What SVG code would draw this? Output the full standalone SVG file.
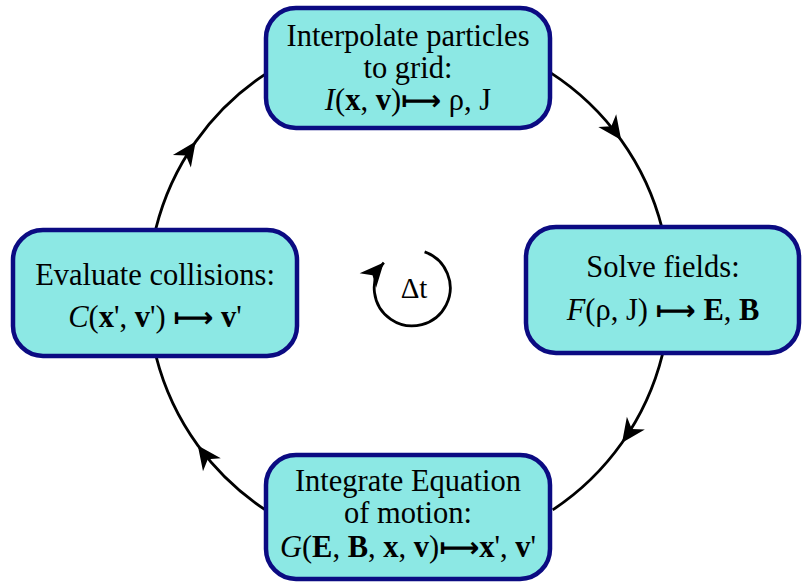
<svg xmlns="http://www.w3.org/2000/svg" width="802" height="583" viewBox="0 0 802 583">
<style>
.box{fill:#8ce8e4;stroke:#0b0b82;stroke-width:4.5}
.t{font-family:'Liberation Serif','Times New Roman',Times,'DejaVu Serif',serif;font-size:30.5px;fill:#000;text-anchor:middle}
.b{font-weight:bold}
.i{font-style:italic}
.ar{font-family:'DejaVu Sans',sans-serif;font-size:28px;font-weight:bold}
.c{fill:none;stroke:#000;stroke-width:2.8}
</style>
<defs>
<marker id="ah" markerUnits="userSpaceOnUse" markerWidth="30" markerHeight="30" refX="26" refY="15" orient="auto" overflow="visible">
<path d="M26,15 L2,4 L9,15 L2,26 Z" fill="#000"/>
</marker>
</defs>
<g id="connectors">
<path class="c" marker-mid="url(#ah)" d="M550.4,72.6 A261,261 0 0 1 621.2,140.1 A261,261 0 0 1 662.1,228.4"/>
<path class="c" marker-mid="url(#ah)" d="M662.4,354.7 A261,261 0 0 1 622.0,442.8 A261,261 0 0 1 552.7,509.9"/>
<path class="c" marker-mid="url(#ah)" d="M268.8,512.1 A261,261 0 0 1 197.8,445.4 A261,261 0 0 1 156.2,356.9"/>
<path class="c" marker-mid="url(#ah)" d="M155.9,228.4 A261,261 0 0 1 195.7,141.6 A261,261 0 0 1 264.6,74.6"/>
</g>
<g id="cycle">
<path class="c" marker-end="url(#ah)" d="M424.6,251.9 A38,38 0 1 1 383.8,262.6"/>
<text class="t" x="414" y="298" style="font-size:29px">Δt</text>
</g>
<g id="interpolate">
<rect class="box" x="266" y="8" width="284" height="120" rx="30"/>
<text class="t" x="408" y="46">Interpolate particles</text>
<text class="t" x="408" y="78">to grid:</text>
<text class="t" x="408" y="110"><tspan class="i">I</tspan>(<tspan class="b">x</tspan>, <tspan class="b">v</tspan>)<tspan class="ar">⟼</tspan> ρ, J</text>
</g>
<g id="solve">
<rect class="box" x="526" y="227" width="273" height="126" rx="30"/>
<text class="t" x="663" y="277">Solve fields:</text>
<text class="t" x="663" y="320"><tspan class="i">F</tspan>(ρ, J) <tspan class="ar">⟼</tspan> <tspan class="b">E</tspan>, <tspan class="b">B</tspan></text>
</g>
<g id="integrate">
<rect class="box" x="266" y="455" width="284" height="124" rx="30"/>
<text class="t" x="408" y="491">Integrate Equation</text>
<text class="t" x="408" y="523">of motion:</text>
<text class="t" x="408" y="557"><tspan class="i">G</tspan>(<tspan class="b">E</tspan>, <tspan class="b">B</tspan>, <tspan class="b">x</tspan>, <tspan class="b">v</tspan>)<tspan class="ar">⟼</tspan><tspan class="b">x</tspan>', <tspan class="b">v</tspan>'</text>
</g>
<g id="collisions">
<rect class="box" x="13" y="230" width="284" height="126" rx="30"/>
<text class="t" x="155" y="285">Evaluate collisions:</text>
<text class="t" x="155" y="327"><tspan class="i">C</tspan>(<tspan class="b">x</tspan>', <tspan class="b">v</tspan>') <tspan class="ar">⟼</tspan> <tspan class="b">v</tspan>'</text>
</g>
</svg>
